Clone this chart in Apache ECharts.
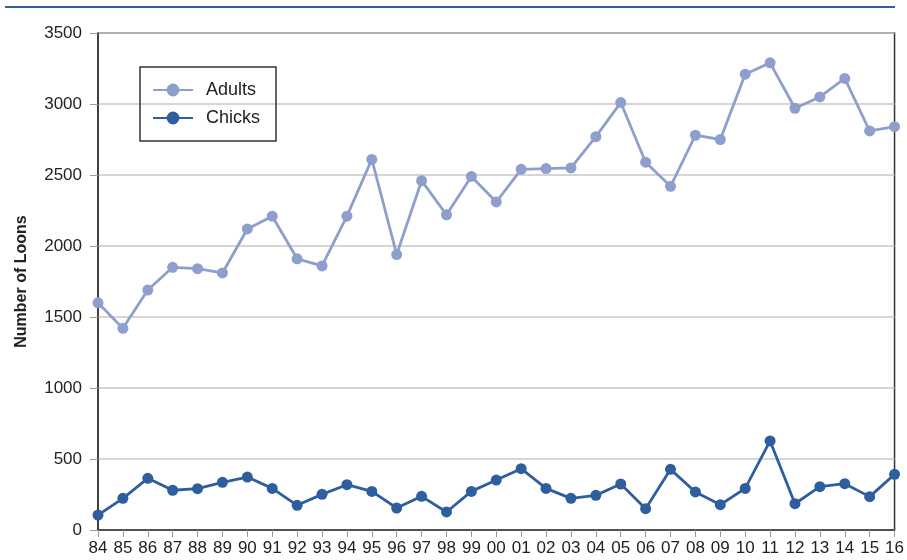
<!DOCTYPE html>
<html lang="en">
<head>
    <meta charset="UTF-8">
    <title>loons</title>
    <script src="https://cdn.jsdelivr.net/npm/echarts@6/dist/echarts.min.js"></script>
    <style>
        html, body { margin: 0; padding: 0; background: #fff; }
        #chart { width: 907px; height: 560px; }
    </style>
</head>
<body>
<div id="chart"></div>
<script>
    // survey years (two-digit labels)
    var years = ['84', '85', '86', '87', '88', '89', '90', '91', '92', '93', '94', '95', '96', '97', '98', '99',
        '00', '01', '02', '03', '04', '05', '06', '07', '08', '09', '10', '11', '12', '13', '14', '15', '16'];
    var adults = [1600, 1420, 1690, 1850, 1840, 1810, 2120, 2210, 1910, 1860, 2210, 2610, 1940, 2460, 2220, 2490,
        2310, 2540, 2545, 2550, 2770, 3010, 2590, 2420, 2780, 2750, 3210, 3290, 2970, 3050, 3180, 2810, 2840];
    var chicks = [105, 223, 364, 280, 291, 336, 373, 293, 174, 251, 319, 272, 155, 237, 127, 272,
        352, 432, 293, 223, 244, 324, 150, 427, 268, 178, 293, 627, 185, 305, 326, 235, 392];

    var adultColor = '#8e9fcd';
    var chickColor = '#2f5e9f';
    var font = 'Liberation Sans, Arial, sans-serif';

    var chart = echarts.init(document.getElementById('chart'));
    chart.setOption({
        animation: false,
        grid: {
            left: 98, right: 12, top: 33, bottom: 30,
            show: true, borderColor: '#333', borderWidth: 1.5
        },
        graphic: [{
            type: 'line',
            shape: {x1: 5, y1: 7, x2: 895, y2: 7},
            style: {stroke: chickColor, lineWidth: 2}
        }],
        legend: {
            orient: 'vertical',
            left: 140, top: 67,
            padding: [14, 16, 14, 12],
            itemGap: 10,
            itemWidth: 40, itemHeight: 16,
            borderColor: '#333', borderWidth: 1.5,
            textStyle: {fontFamily: font, fontSize: 18, color: '#222', padding: [0, 0, 0, 8]},
            data: ['Adults', 'Chicks']
        },
        xAxis: {
            type: 'category',
            boundaryGap: false,
            data: years,
            axisLine: {lineStyle: {color: '#333', width: 1.5}},
            axisTick: {alignWithLabel: true, length: 7, lineStyle: {color: '#999'}},
            axisLabel: {fontFamily: font, fontSize: 17, color: '#222', margin: 10, interval: 0}
        },
        yAxis: {
            type: 'value',
            min: 0, max: 3500, interval: 500,
            name: 'Number of Loons',
            nameLocation: 'middle',
            nameGap: 68,
            nameTextStyle: {fontFamily: font, fontSize: 16, fontWeight: 'bold', color: '#222'},
            axisLine: {show: true, lineStyle: {color: '#333', width: 1.5}},
            axisTick: {show: true, length: 8, lineStyle: {color: '#999'}},
            axisLabel: {
                fontFamily: font, fontSize: 17, color: '#222', margin: 16,
                formatter: function (v) { return String(v); }
            },
            splitLine: {lineStyle: {color: '#c8c8c8', width: 1.5}}
        },
        series: [
            {
                name: 'Adults', type: 'line', data: adults,
                symbol: 'circle', symbolSize: 11,
                lineStyle: {color: adultColor, width: 2.8},
                itemStyle: {color: adultColor}
            },
            {
                name: 'Chicks', type: 'line', data: chicks,
                symbol: 'circle', symbolSize: 11,
                lineStyle: {color: chickColor, width: 2.8},
                itemStyle: {color: chickColor}
            }
        ]
    });
</script>
</body>
</html>
